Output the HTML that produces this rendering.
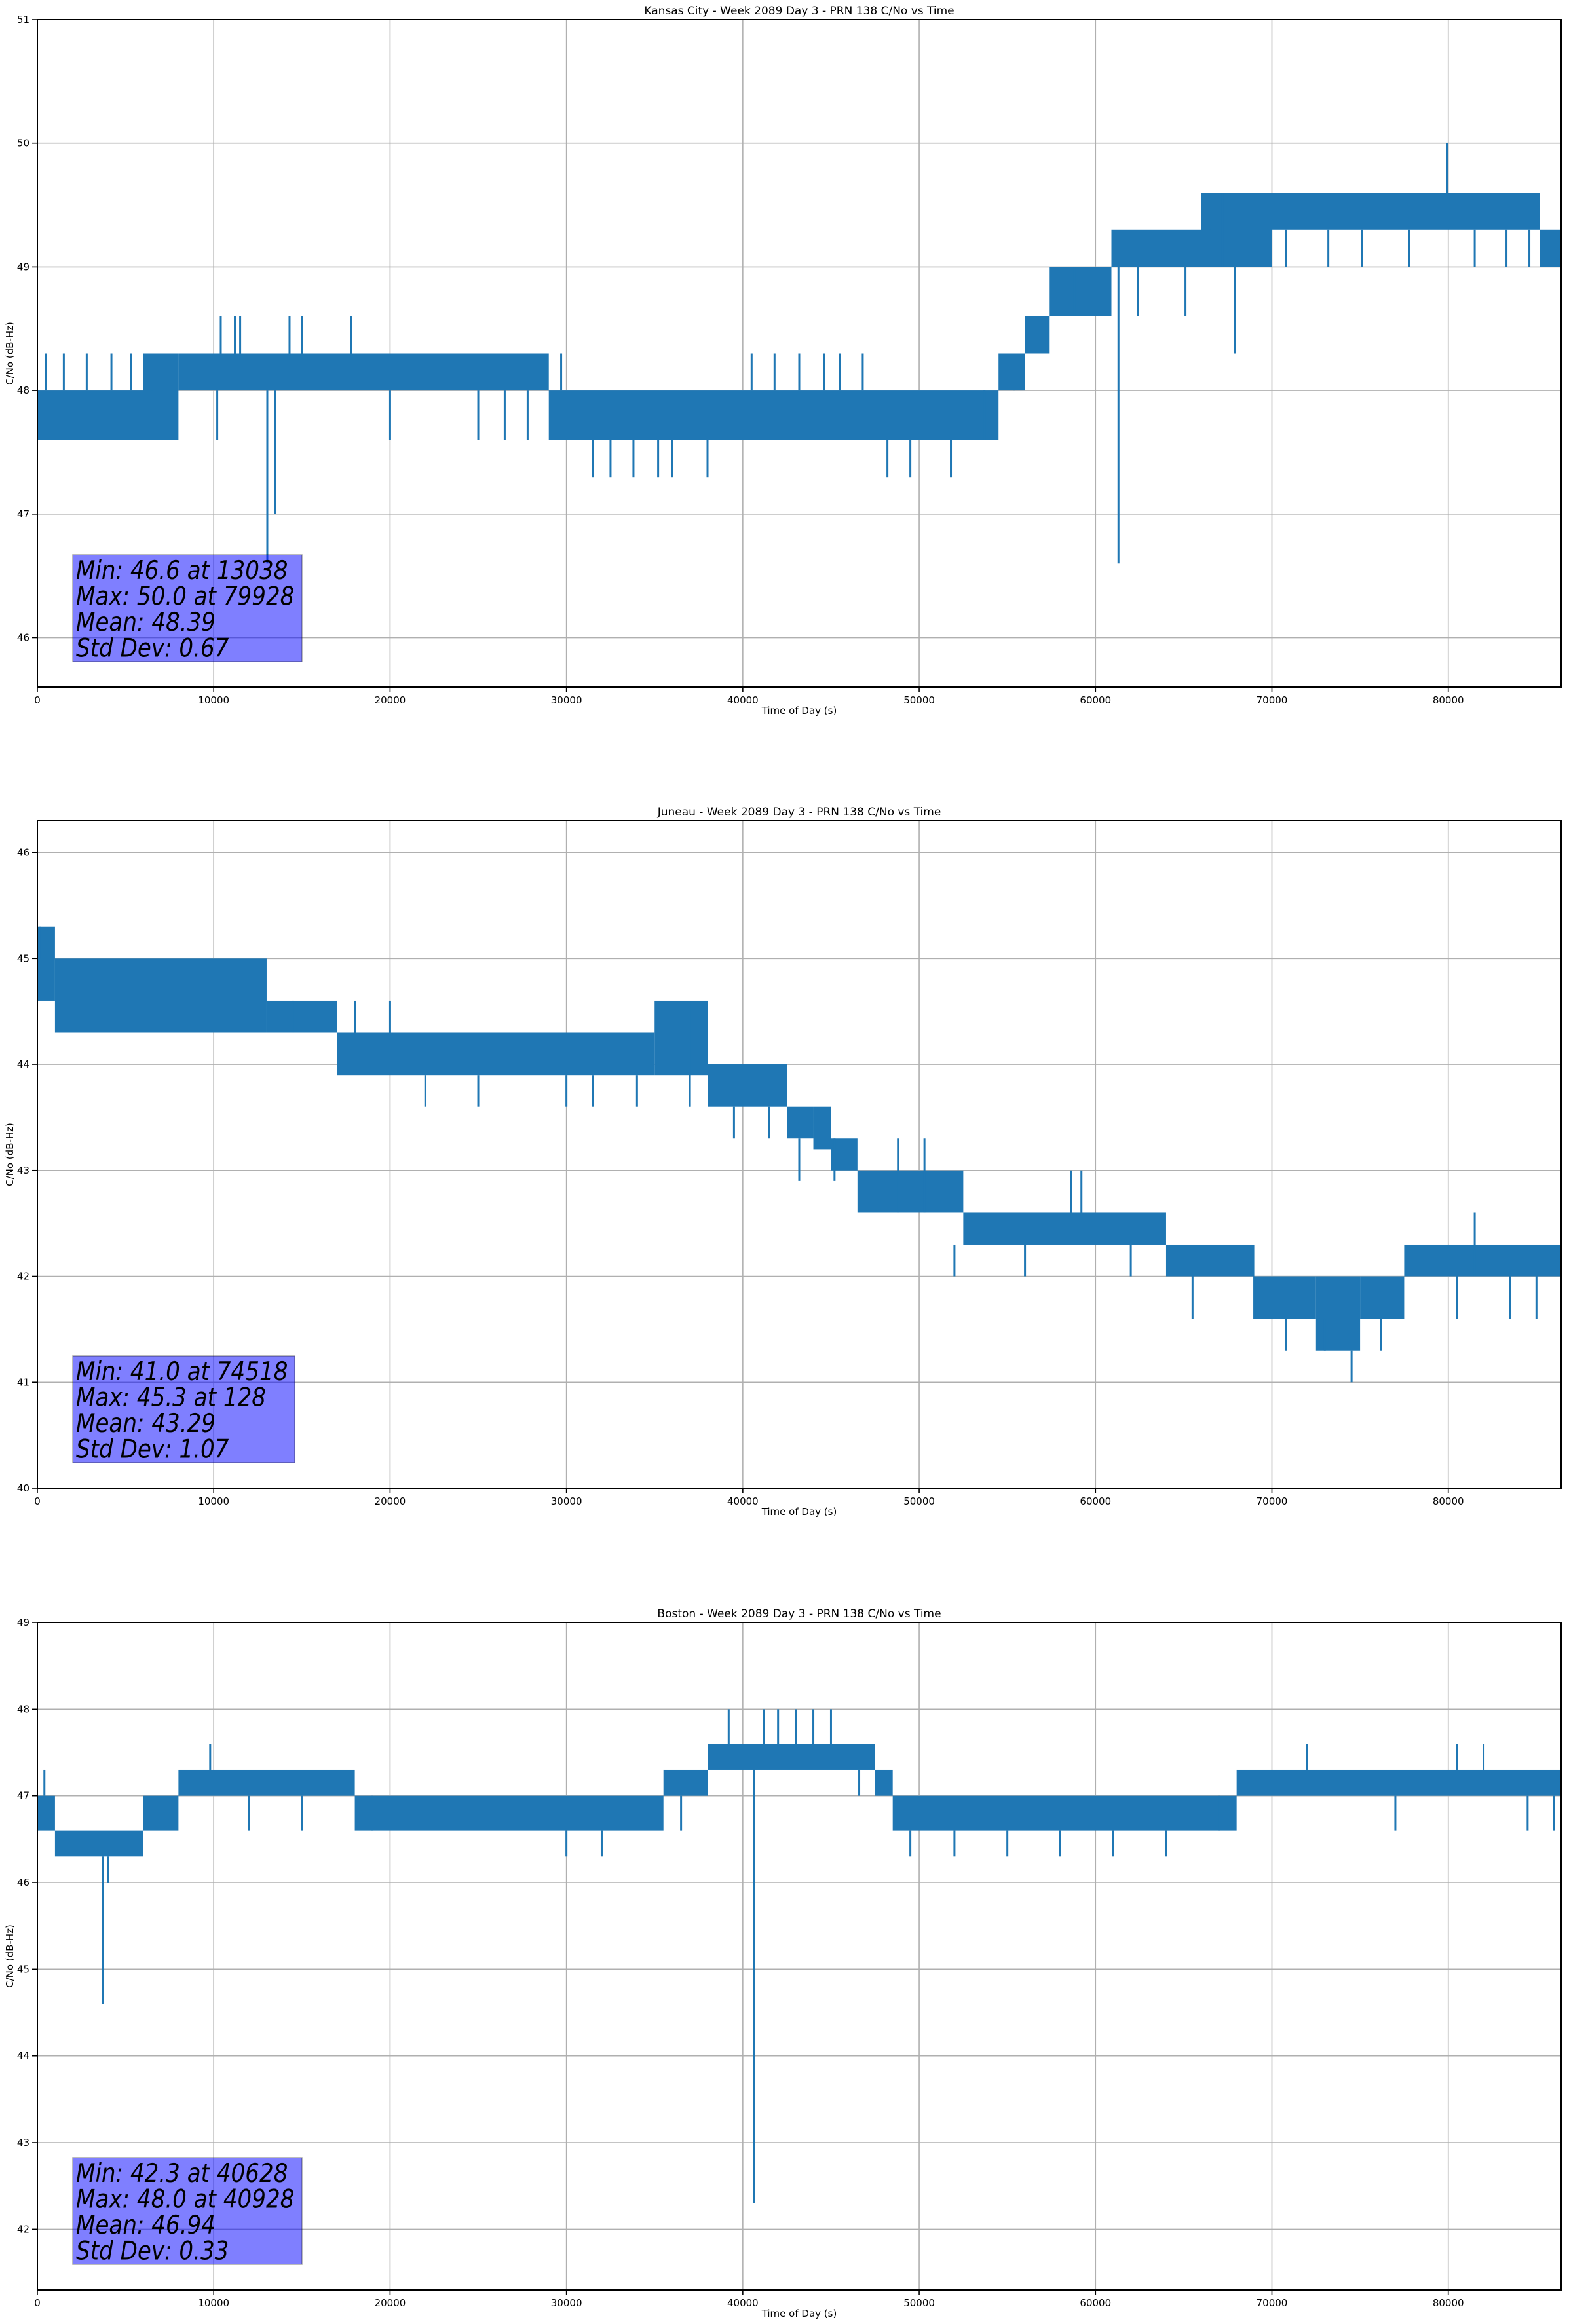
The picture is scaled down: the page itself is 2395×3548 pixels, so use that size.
<!DOCTYPE html>
<html><head><meta charset="utf-8">
<style>
html,body{margin:0;padding:0;background:#fff;}
svg{display:block;font-family:"DejaVu Sans","Liberation Sans",sans-serif;}
</style></head>
<body>
<svg id="fig" width="2395" height="3548" viewBox="0 0 2395 3548" xmlns="http://www.w3.org/2000/svg"></svg>
<script>
// ---------- DATA ----------
const xTicks = [0,10000,20000,30000,40000,50000,60000,70000,80000];

const titles = ["Kansas City - Week 2089 Day 3 - PRN 138 C/No vs Time",
                "Juneau - Week 2089 Day 3 - PRN 138 C/No vs Time",
                "Boston - Week 2089 Day 3 - PRN 138 C/No vs Time"];
const yTicks1 = [46,47,48,49,50,51];
const yTicks2 = [40,41,42,43,44,45,46];
const yTicks3 = [42,43,44,45,46,47,48,49];

// Kansas City bands
const kcStart = [0,6000,8000,24000,29000,54500,56000,57400,60900,66000,70000,85200];
const kcEnd   = [6000,8000,24000,29000,54500,56000,57400,60900,66000,70000,85200,86400];
const kcLow   = [47.6,47.6,48.0,48.0,47.6,48.0,48.3,48.6,49.0,49.0,49.3,49.0];
const kcHigh  = [48.0,48.3,48.3,48.3,48.0,48.3,48.6,49.0,49.3,49.6,49.6,49.3];
const kcSpikeT  = [500,1500,2800,4200,5300,6500,7800,10200,10400,11200,11500,13038,13500,14300,15000,17800,20000,25000,26500,27800,29700,31500,32500,33800,35200,36000,38000,40500,41800,43200,44600,45500,46800,48200,49500,51800,53700,55400,57200,58800,61300,62400,65100,66500,67200,67900,70800,73200,75100,77800,79928,81500,83300,84600];
const kcSpikeLo = [48.0,48.0,48.0,48.0,48.0,47.6,47.6,47.6,48.3,48.3,48.3,46.6,47.0,48.3,48.3,48.3,47.6,47.6,47.6,47.6,48.0,47.3,47.3,47.3,47.3,47.3,47.3,48.0,48.0,48.0,48.0,48.0,48.0,47.3,47.3,47.3,47.6,48.0,48.3,48.6,46.6,48.6,48.6,49.3,49.0,48.3,49.0,49.0,49.0,49.0,49.6,49.0,49.0,49.0];
const kcSpikeHi = [48.3,48.3,48.3,48.3,48.3,48.0,48.0,48.0,48.6,48.6,48.6,48.0,48.0,48.6,48.6,48.6,48.0,48.0,48.0,48.0,48.3,47.6,47.6,47.6,47.6,47.6,47.6,48.3,48.3,48.3,48.3,48.3,48.3,47.6,47.6,47.6,48.0,48.3,48.6,49.0,49.0,49.0,49.0,49.6,49.6,49.0,49.3,49.3,49.3,49.3,50.0,49.3,49.3,49.3];

// Juneau bands
const jnStart = [0,1000,13000,17000,35000,38000,42500,44000,45000,46500,52500,64000,69000,72500,75000,77500];
const jnEnd   = [1000,13000,17000,35000,38000,42500,44000,45000,46500,52500,64000,69000,72500,75000,77500,86400];
const jnLow   = [44.6,44.3,44.3,43.9,43.9,43.6,43.3,43.2,43.0,42.6,42.3,42.0,41.6,41.3,41.6,42.0];
const jnHigh  = [45.3,45.0,44.6,44.3,44.6,44.0,43.6,43.6,43.3,43.0,42.6,42.3,42.0,42.0,42.0,42.3];
const jnSpikeT  = [128,14500,18000,20000,22000,25000,30000,31500,34000,37000,39500,41500,43200,45200,48800,50300,52000,56000,58600,59200,62000,65500,69000,70800,73000,74518,76200,80500,81500,83500,85000];
const jnSpikeLo = [45.0,44.3,44.3,44.3,43.6,43.6,43.6,43.6,43.6,43.6,43.3,43.3,42.9,42.9,42.6,42.6,42.0,42.0,42.6,42.6,42.0,41.6,41.6,41.3,41.3,41.0,41.3,41.6,42.0,41.6,41.6];
const jnSpikeHi = [45.3,44.6,44.6,44.6,43.9,43.9,43.9,43.9,43.9,44.6,43.6,43.6,43.3,43.3,43.3,43.3,42.3,42.3,43.0,43.0,42.3,42.0,42.0,42.0,41.6,41.3,41.6,42.0,42.6,42.0,42.0];

// Boston bands
const bsStart = [0,1000,6000,8000,18000,35500,38000,47500,48500,68000];
const bsEnd   = [1000,6000,8000,18000,35500,38000,47500,48500,68000,86400];
const bsLow   = [46.6,46.3,46.6,47.0,46.6,47.0,47.3,47.0,46.6,47.0];
const bsHigh  = [47.0,46.6,47.0,47.3,47.0,47.3,47.6,47.3,47.0,47.3];
const bsSpikeT  = [400,3700,4000,9800,12000,15000,19000,30000,32000,36500,39200,40628,41200,42000,43000,44000,45000,46600,49500,52000,55000,58000,61000,64000,67000,72000,77000,80500,82000,84500,86000];
const bsSpikeLo = [47.0,44.6,46.0,47.3,46.6,46.6,46.6,46.3,46.3,46.6,47.6,42.3,47.6,47.6,47.6,47.6,47.6,47.0,46.3,46.3,46.3,46.3,46.3,46.3,46.6,47.3,46.6,47.3,47.3,46.6,46.6];
const bsSpikeHi = [47.3,46.3,46.3,47.6,47.0,47.0,47.0,46.6,46.6,47.0,48.0,47.6,48.0,48.0,48.0,48.0,48.0,47.3,46.6,46.6,46.6,46.6,46.6,46.6,47.0,47.6,47.0,47.6,47.6,47.0,47.0];

const stats1 = ["Min: 46.6 at 13038","Max: 50.0 at 79928","Mean: 48.39","Std Dev: 0.67"];
const stats2 = ["Min: 41.0 at 74518","Max: 45.3 at 128","Mean: 43.29","Std Dev: 1.07"];
const stats3 = ["Min: 42.3 at 40628","Max: 48.0 at 40928","Mean: 46.94","Std Dev: 0.33"];

// ---------- DRAW ----------
const NS="http://www.w3.org/2000/svg";
const svg=document.getElementById('fig');
function el(tag,attrs,parent){const e=document.createElementNS(NS,tag);for(const k in attrs)e.setAttribute(k,attrs[k]);(parent||svg).appendChild(e);return e;}

const L=57,R=2383,H=1019, XMAX=86400;
const panels=[
 {top:30,ymin:45.6,ymax:51,yt:yTicks1,bs:kcStart,be:kcEnd,bl:kcLow,bh:kcHigh,st:kcSpikeT,sl:kcSpikeLo,sh:kcSpikeHi,stats:stats1,name:'kansas-city'},
 {top:1253,ymin:40,ymax:46.3,yt:yTicks2,bs:jnStart,be:jnEnd,bl:jnLow,bh:jnHigh,st:jnSpikeT,sl:jnSpikeLo,sh:jnSpikeHi,stats:stats2,name:'juneau',boxW:339},
 {top:2477,ymin:41.3,ymax:49,yt:yTicks3,bs:bsStart,be:bsEnd,bl:bsLow,bh:bsHigh,st:bsSpikeT,sl:bsSpikeLo,sh:bsSpikeHi,stats:stats3,name:'boston'}
];

panels.forEach((p,pi)=>{
  const g=el('g',{});
  
  
  const xs=t=>L+(t/XMAX)*(R-L);
  const ys=v=>p.top+H-(v-p.ymin)/(p.ymax-p.ymin)*H;
  xTicks.forEach(t=>{
    const ln=el('line',{x1:xs(t),x2:xs(t),y1:p.top,y2:p.top+H,stroke:'#b0b0b0','stroke-width':1.6},g);
    
    
  });
  p.yt.forEach(v=>{
    const ln=el('line',{x1:L,x2:R,y1:ys(v),y2:ys(v),stroke:'#b0b0b0','stroke-width':1.6},g);
    
    
  });
  for(let i=0;i<p.bs.length;i++){
    const r=el('rect',{x:xs(p.bs[i]),y:ys(p.bh[i]),width:Math.max(1,xs(p.be[i])-xs(p.bs[i])),height:ys(p.bl[i])-ys(p.bh[i]),fill:'#1f77b4'},g);
    
    
  }
  for(let i=0;i<p.st.length;i++){
    const ln=el('line',{x1:xs(p.st[i]),x2:xs(p.st[i]),y1:ys(p.sl[i]),y2:ys(p.sh[i]),stroke:'#1f77b4','stroke-width':3},g);
    
    
  }
  const fr=el('rect',{x:L,y:p.top,width:R-L,height:H,fill:'none',stroke:'#000','stroke-width':2},g);
  
  
  xTicks.forEach(t=>{
    el('line',{x1:xs(t),x2:xs(t),y1:p.top+H,y2:p.top+H+8,stroke:'#000','stroke-width':1.6},g);
    const tx=el('text',{x:xs(t),y:p.top+H+25,'font-size':15,'text-anchor':'middle',fill:'#000'},g);
    tx.textContent=t;
    
    
  });
  p.yt.forEach(v=>{
    el('line',{x1:L-8,x2:L,y1:ys(v),y2:ys(v),stroke:'#000','stroke-width':1.6},g);
    const tx=el('text',{x:L-12,y:ys(v)+5,'font-size':15,'text-anchor':'end',fill:'#000'},g);
    tx.textContent=v;
    
    
  });
  const tt=el('text',{x:(L+R)/2,y:p.top-8,'font-size':17,'text-anchor':'middle',fill:'#000'},g);
  tt.textContent=titles[pi];
  
  
  const xl=el('text',{x:(L+R)/2,y:p.top+H+41,'font-size':15,'text-anchor':'middle',fill:'#000'},g);
  xl.textContent='Time of Day (s)';
  
  
  const yc=p.top+H/2;
  const yl=el('text',{x:20,y:yc,'font-size':15,'text-anchor':'middle',fill:'#000',transform:`rotate(-90 20 ${yc})`},g);
  yl.textContent='C/No (dB-Hz)';
  
  
  const bx=111,bw=p.boxW||350,bt=p.top+817,bh=163;
  const box=el('rect',{x:bx,y:bt,width:bw,height:bh,fill:'rgba(0,0,255,0.5)',stroke:'rgba(0,0,0,0.35)','stroke-width':1.5},g);
  
  
  p.stats.forEach((s,k)=>{
    const tx=el('text',{x:bx+5,y:bt+37+k*39.5,'font-size':39,'font-style':'italic',fill:'#000'},g);
    tx.textContent=s;
    
    
    const w=tx.getComputedTextLength();
    if(w>0){tx.setAttribute('textLength',(w*0.875).toFixed(1));tx.setAttribute('lengthAdjust','spacingAndGlyphs');}
  });
});
</script>
</body></html>
